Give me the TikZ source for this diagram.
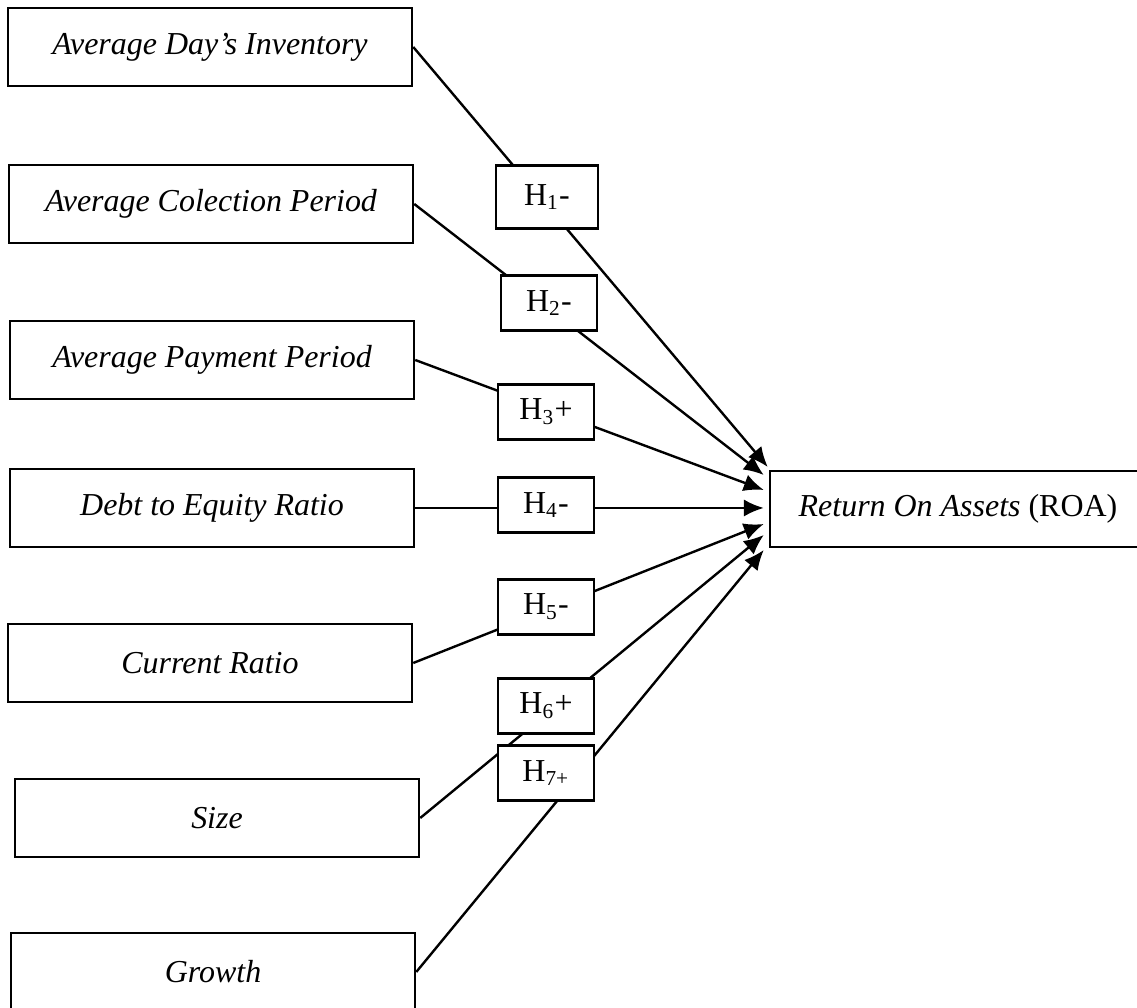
\documentclass[tikz,border=0pt]{standalone}
\usepackage{fontspec}
\setmainfont{Liberation Serif}
\usetikzlibrary{arrows.meta}
\usetikzlibrary{calc}

\begin{document}
\begin{tikzpicture}[x=0.0132cm, y=-0.0132cm,
  every node/.style={font=\fontsize{12}{14}\selectfont},
  var/.style={draw, line width=1pt, minimum width=5.33cm, minimum height=1.03cm, inner sep=0pt, font=\fontsize{12}{14}\selectfont\itshape},
  hyp/.style={draw, line width=1pt, fill=white, minimum width=1.27cm, minimum height=0.73cm, inner sep=0pt},
  link/.style={->, >={Latex[length=7.5pt,width=6.5pt]}, line width=0.9pt}]
\useasboundingbox (0,0) rectangle (1137,1008);

% independent variables
\node[var] (adi) at (210, 47)  {Average Day's Inventory};
\node[var] (acp) at (211, 204) {Average Colection Period};
\node[var] (app) at (212, 360) {Average Payment Period};
\node[var] (der) at (212, 508) {Debt to Equity Ratio};
\node[var] (cr)  at (210, 663) {Current Ratio};
\node[var] (sz)  at (217, 818) {Size};
\node[var] (gr)  at (213, 972) {Growth};

% dependent variable
\node[var, minimum width=4.96cm, minimum height=1cm, font=\fontsize{12}{14}\selectfont] (roa) at (958, 509) {\textit{Return On Assets} (ROA)};

\draw[link] (adi.east) -- ($(roa.west)+(-1,-42)$);
\draw[link] (acp.east) -- ($(roa.west)+(-5,-34)$);
\draw[link] (app.east) -- ($(roa.west)+(-5,-19)$);
\draw[link] (der.east) -- ($(roa.west)+(-5,-1)$);
\draw[link] (cr.east)  -- ($(roa.west)+(-5,15)$);
\draw[link] (sz.east)  -- ($(roa.west)+(-5,26)$);
\draw[link] (gr.east)  -- ($(roa.west)+(-5,41)$);

% hypotheses
\node[hyp, minimum width=1.35cm, minimum height=0.83cm] (h1) at (547, 197) {H\textsubscript{1}-};
\node[hyp] (h2) at (549, 303) {H\textsubscript{2}-};
\node[hyp] (h3) at (546, 412) {H\textsubscript{3}+};
\node[hyp] (h4) at (546, 505) {H\textsubscript{4}-};
\node[hyp] (h5) at (546, 607) {H\textsubscript{5}-};
\node[hyp] (h6) at (546, 706) {H\textsubscript{6}+};
\node[hyp] (h7) at (546, 773) {H\textsubscript{7+}};

\end{tikzpicture}
\end{document}
